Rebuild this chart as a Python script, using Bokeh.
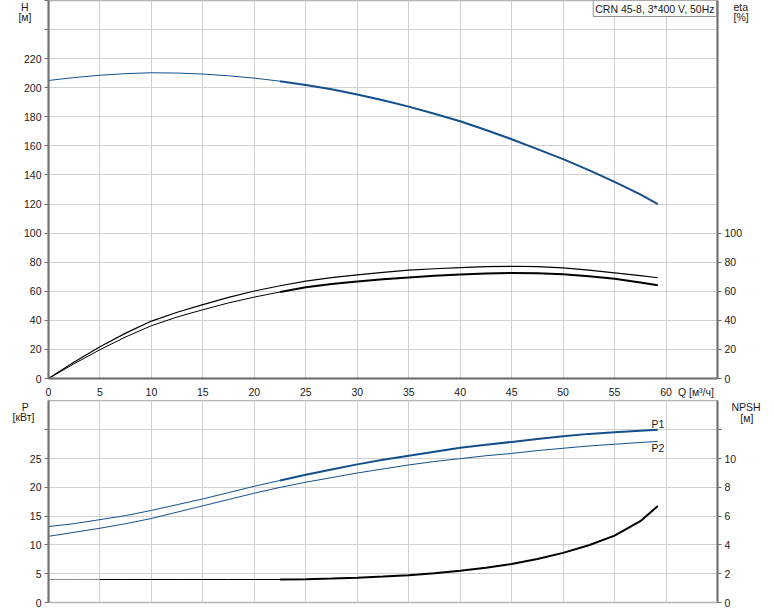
from bokeh.plotting import figure
from bokeh.models import Range1d, LinearAxis, FixedTicker, Label
from bokeh.layouts import column
from bokeh.embed import file_html
from bokeh.resources import INLINE

# ---------------- data ----------------
Q = [0, 2.5, 5, 7.5, 10, 12.5, 15, 17.5, 20, 22.5, 25, 27.5, 30, 32.5, 35, 37.5,
     40, 42.5, 45, 47.5, 50, 52.5, 55, 57.5, 59.2]
H_M = [205.0, 207.0, 208.6, 209.7, 210.3, 210.1, 209.4, 208.2, 206.6, 204.5, 201.9, 198.9,
       195.4, 191.4, 187.0, 182.1, 176.9, 170.9, 164.6, 157.8, 150.9, 143.3, 135.3, 126.6, 120.0]
ETA_PUMP = [0, 11.3, 21.8, 31.2, 39.5, 45.6, 50.8, 55.8, 60.2, 63.8, 67.0, 69.4, 71.3, 73.0,
            74.5, 75.5, 76.3, 76.9, 77.2, 76.9, 76.1, 74.6, 72.6, 70.7, 69.3]
ETA_TOTAL = [0, 10.2, 19.8, 28.6, 36.3, 42.3, 47.3, 52.0, 56.0, 59.5, 62.7, 65.0, 66.8, 68.3,
             69.5, 70.6, 71.5, 72.2, 72.6, 72.4, 71.7, 70.3, 68.6, 66.1, 64.2]
P1 = [13.2, 13.7, 14.4, 15.1, 16.0, 17.0, 18.0, 19.1, 20.2, 21.2, 22.2, 23.1, 24.0, 24.8,
      25.5, 26.2, 26.9, 27.4, 27.9, 28.4, 28.9, 29.3, 29.6, 29.85, 30.0]
P2 = [11.5, 12.2, 12.9, 13.7, 14.6, 15.7, 16.8, 17.9, 19.0, 20.0, 20.9, 21.7, 22.5, 23.2,
      23.9, 24.5, 25.0, 25.5, 25.9, 26.4, 26.8, 27.2, 27.5, 27.8, 28.0]
NPSH = [1.6, 1.6, 1.6, 1.6, 1.6, 1.6, 1.6, 1.6, 1.6, 1.6, 1.62, 1.66, 1.72, 1.8, 1.9, 2.03,
        2.2, 2.42, 2.68, 3.02, 3.45, 3.98, 4.65, 5.65, 6.7]
SPLIT = 9   # index of Q = 22.5, where the thick (duty) part starts
GRAY_END = 2  # index of Q = 5, end of the grey start of the NPSH line

Q_TICKS = list(range(0, 61, 5))
H_TICKS = list(range(0, 261, 20))
ETA_TICKS = list(range(0, 101, 20))
P_TICKS = list(range(0, 31, 5))
NPSH_TICKS = list(range(0, 13, 2))
TITLE_TEXT = "CRN 45-8, 3*400 V, 50Hz"
Q_TITLE = "Q [м³/ч]"
H_TITLE = ["H", "[м]"]
ETA_TITLE = ["eta", "[%]"]
P_TITLE = ["P", "[кВт]"]
NPSH_TITLE = ["NPSH", "[м]"]

# ---------------- style ----------------
FONT = "Liberation Sans"
FS = "10.5px"
TXT = "#1a1a1a"
BLUE = "#134f8c"
AX = "#707070"
GRID = "#d0d0d0"
NB = "\u00a0"

X_MAX = 65
H_MAX = 260
P_MAX = 35.1
NPSH_MAX = P_MAX / 2.5
W = 774
LB, RB = 48, 57
FH1, FH2 = 381, 202
BB1, BB2 = 19, 8


def style_axis(ax):
    ax.axis_line_color = AX
    ax.axis_line_width = 2
    ax.major_tick_line_color = AX
    ax.major_tick_out = 4
    ax.major_tick_in = 0
    ax.minor_tick_line_color = None
    ax.major_label_text_font = FONT
    ax.major_label_text_font_size = FS
    ax.major_label_text_color = TXT
    ax.major_label_standoff = 3


def title_axis(p, side, fh, ys, texts, standoff):
    """Axis that only carries the unit titles (no line, no ticks)."""
    name = "px_" + side
    p.extra_y_ranges[name] = Range1d(0, fh)
    ax = LinearAxis(y_range_name=name, ticker=FixedTicker(ticks=ys),
                    major_label_overrides=dict(zip(ys, texts)))
    style_axis(ax)
    ax.axis_line_color = None
    ax.major_tick_line_color = None
    ax.major_tick_out = 0
    ax.major_label_standoff = standoff
    p.add_layout(ax, side)


def base_fig(fh, ymax, bottom):
    p = figure(width=W, height=fh + bottom, x_range=Range1d(0, X_MAX), y_range=Range1d(0, ymax),
               output_backend="svg", toolbar_location=None,
               min_border_left=LB, min_border_right=RB, min_border_top=0,
               min_border_bottom=bottom)
    p.outline_line_color = "#b4b4b4"
    p.outline_line_width = 1.5
    p.xgrid.ticker = FixedTicker(ticks=list(range(0, X_MAX + 1, 5)))
    p.xgrid.grid_line_color = GRID
    p.ygrid.grid_line_color = GRID
    return p


# ---------------- top: H and eta ----------------
p1 = base_fig(FH1, H_MAX, BB1)
p1.ygrid.ticker = FixedTicker(ticks=H_TICKS)
style_axis(p1.yaxis[0])
p1.yaxis[0].ticker = FixedTicker(ticks=H_TICKS)
p1.yaxis[0].major_label_overrides = {240: "", 260: ""}
style_axis(p1.xaxis[0])
p1.xaxis[0].ticker = FixedTicker(ticks=Q_TICKS + [62.9])
p1.xaxis[0].major_label_overrides = {62.9: Q_TITLE}
p1.xaxis[0].major_tick_line_color = None

p1.extra_y_ranges = {"eta": Range1d(0, H_MAX)}
ax_eta = LinearAxis(y_range_name="eta", ticker=FixedTicker(ticks=ETA_TICKS))
style_axis(ax_eta)
p1.add_layout(ax_eta, "right")

title_axis(p1, "left", FH1, [FH1 - 5, FH1 - 17], [H_TITLE[0] + NB, H_TITLE[1]], -11)
title_axis(p1, "right", FH1, [FH1 - 5, FH1 - 17], ETA_TITLE, -12)

p1.line(Q[:SPLIT + 1], H_M[:SPLIT + 1], line_color=BLUE, line_width=1)
p1.line(Q[SPLIT:], H_M[SPLIT:], line_color=BLUE, line_width=2)
p1.line(Q, ETA_PUMP, line_color="black", line_width=1.2, y_range_name="eta")
p1.line(Q[:SPLIT + 1], ETA_TOTAL[:SPLIT + 1], line_color="black", line_width=1, y_range_name="eta")
p1.line(Q[SPLIT:], ETA_TOTAL[SPLIT:], line_color="black", line_width=2, y_range_name="eta")

p1.add_layout(Label(x=X_MAX, y=H_MAX, x_offset=-1, text=TITLE_TEXT, text_align="right",
                    text_baseline="top", text_font=FONT, text_font_size=FS, text_color=TXT,
                    background_fill_color="white", border_line_color="#909090",
                    padding=2))

# ---------------- bottom: P and NPSH ----------------
p2 = base_fig(FH2, P_MAX, BB2)
p2.ygrid.ticker = FixedTicker(ticks=P_TICKS)
style_axis(p2.yaxis[0])
p2.yaxis[0].ticker = FixedTicker(ticks=P_TICKS)
p2.yaxis[0].major_label_overrides = {30: ""}
p2.xaxis.visible = False

p2.extra_y_ranges = {"npsh": Range1d(0, NPSH_MAX)}
ax_n = LinearAxis(y_range_name="npsh", ticker=FixedTicker(ticks=NPSH_TICKS))
style_axis(ax_n)
ax_n.major_label_overrides = {12: ""}
p2.add_layout(ax_n, "right")

title_axis(p2, "left", FH2, [FH2 - 5, FH2 - 16], [P_TITLE[0] + NB * 2, P_TITLE[1]], -8)
title_axis(p2, "right", FH2, [FH2 - 4, FH2 - 17], [NPSH_TITLE[0], NB * 3 + NPSH_TITLE[1]], -8)

p2.line(Q[:SPLIT + 1], P1[:SPLIT + 1], line_color=BLUE, line_width=1)
p2.line(Q[SPLIT:], P1[SPLIT:], line_color=BLUE, line_width=2)
p2.line(Q, P2, line_color=BLUE, line_width=1)
p2.line(Q[:GRAY_END + 1], NPSH[:GRAY_END + 1], line_color="#8a8a8a", line_width=1, y_range_name="npsh")
p2.line(Q[GRAY_END:SPLIT + 1], NPSH[GRAY_END:SPLIT + 1], line_color="black", line_width=1, y_range_name="npsh")
p2.line(Q[SPLIT:], NPSH[SPLIT:], line_color="black", line_width=2, y_range_name="npsh")

for txt, yv in (("P1", 31.1), ("P2", 26.8)):
    p2.add_layout(Label(x=Q[-1], y=yv, text=txt, text_align="center", text_baseline="middle",
                        text_font=FONT, text_font_size=FS, text_color=TXT))

layout = column(p1, p2, spacing=0)
open("out.html", "w").write(file_html(layout, INLINE))
